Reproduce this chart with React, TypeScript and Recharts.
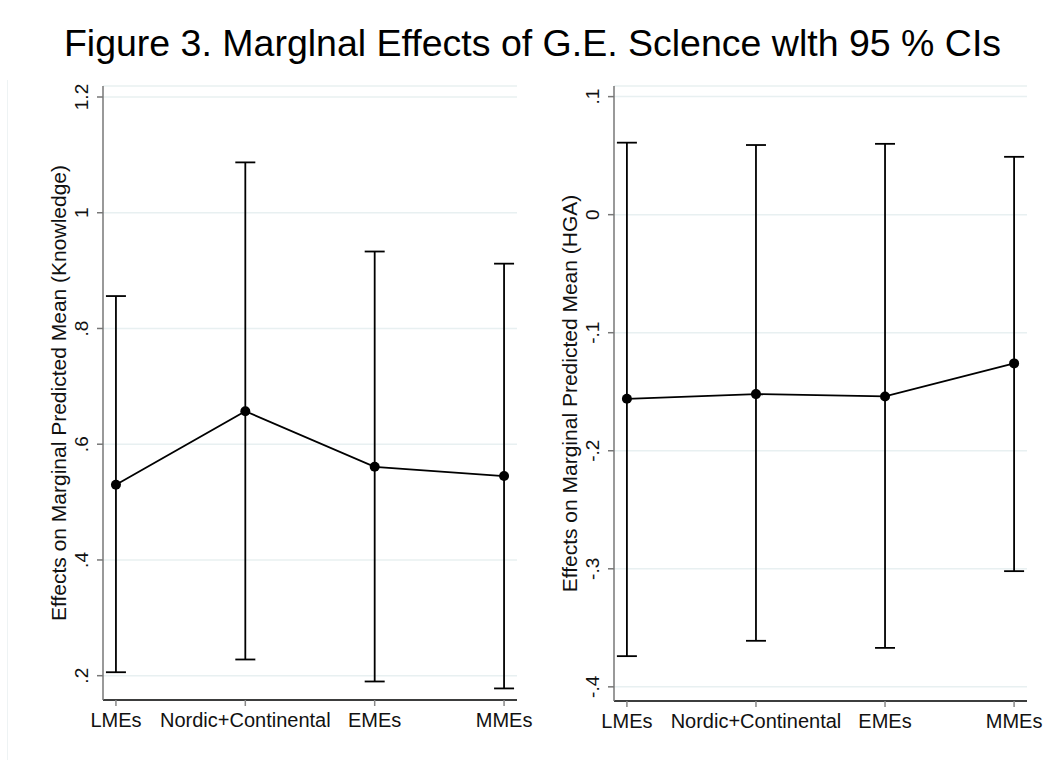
import React from "react";
import { CartesianGrid, ErrorBar, Line, LineChart, XAxis, YAxis } from "recharts";

const categories = ["LMEs", "Nordic+Continental", "EMEs", "MMEs"];

// left panel: Knowledge
const knowledgeMean = [0.53, 0.657, 0.561, 0.545];
const knowledgeLow = [0.206, 0.228, 0.19, 0.178];
const knowledgeHigh = [0.856, 1.087, 0.933, 0.912];
const knowledgeTicks = [0.2, 0.4, 0.6, 0.8, 1, 1.2];

// right panel: HGA
const hgaMean = [-0.156, -0.152, -0.154, -0.126];
const hgaLow = [-0.374, -0.361, -0.367, -0.302];
const hgaHigh = [0.061, 0.059, 0.06, 0.049];
const hgaTicks = [-0.4, -0.3, -0.2, -0.1, 0, 0.1];

const FONT = '"Liberation Sans", Arial, Helvetica, sans-serif';

const buildRows = (mean: number[], low: number[], high: number[]) =>
  mean.map((m, i) => ({
    pos: i + 1,
    mean: m,
    err: [m - low[i], high[i] - m]
  }));

// Stata style: ".2", "-.4", "0"
const stataNum = (v: number) => {
  const s = String(Math.round(v * 10) / 10);
  return s.replace(/^0\./, ".").replace(/^-0\./, "-.");
};

const RotatedTick = (props: any) => {
  const { x, y, payload } = props;
  return (
    <text
      x={x}
      y={y}
      transform={`rotate(-90 ${x} ${y})`}
      textAnchor="middle"
      fontSize={19}
      fontFamily={FONT}
      fill="#111"
    >
      {stataNum(payload.value)}
    </text>
  );
};

type PanelProps = {
  left: number;
  width: number;
  yLabel: string;
  mean: number[];
  low: number[];
  high: number[];
  ticks: number[];
  domain: [number, number];
  marginLeft: number;
  marginBottom: number;
};

function Panel({ left, width, yLabel, mean, low, high, ticks, domain, marginLeft, marginBottom }: PanelProps) {
  const rows = buildRows(mean, low, high);
  return (
    <div style={{ position: "absolute", left, top: 0 }}>
      <LineChart
        width={width}
        height={760}
        data={rows}
        margin={{ top: 86, right: 23, left: marginLeft, bottom: marginBottom }}
      >
        <CartesianGrid horizontal vertical={false} stroke="#e8f0f1" strokeWidth={1.5} />
        <XAxis
          dataKey="pos"
          type="number"
          domain={[0.9, 4.1]}
          ticks={[1, 2, 3, 4]}
          allowDataOverflow
          tickFormatter={(v) => categories[v - 1]}
          height={40}
          tickSize={6}
          tickMargin={7}
          interval={0}
          axisLine={{ stroke: "#000", strokeWidth: 1.5 }}
          tickLine={{ stroke: "#888", strokeWidth: 1.5 }}
          tick={{ fontSize: 20, fontFamily: FONT, fill: "#111" }}
        />
        <YAxis
          type="number"
          domain={domain}
          ticks={ticks}
          allowDataOverflow
          width={60}
          tickSize={6}
          tickMargin={9}
          interval={0}
          axisLine={{ stroke: "#777", strokeWidth: 1.5 }}
          tickLine={{ stroke: "#777", strokeWidth: 1.5 }}
          tick={<RotatedTick />}
          label={{
            value: yLabel,
            angle: -90,
            position: "insideLeft",
            offset: 0,
            dx: 16,
            style: { fontSize: 21, fontFamily: FONT, fill: "#111", textAnchor: "middle" }
          }}
        />
        <Line
          dataKey="mean"
          stroke="#000"
          strokeWidth={1.8}
          dot={{ r: 5, fill: "#000", stroke: "#000", strokeWidth: 0 }}
          activeDot={false}
          isAnimationActive={false}
        >
          <ErrorBar
            dataKey="err"
            direction="y"
            width={10}
            stroke="#000"
            strokeWidth={1.8}
            isAnimationActive={false}
          />
        </Line>
      </LineChart>
    </div>
  );
}

export default function App() {
  return (
    <div
      style={{
        position: "absolute",
        left: 0,
        top: 0,
        width: 1053,
        height: 773,
        background: "#fff",
        fontFamily: FONT
      }}
    >
      <div
        style={{
          position: "absolute",
          left: 7,
          top: 80,
          width: 0,
          height: 680,
          borderLeft: "1px solid #eef3f4"
        }}
      />
      <div
        style={{
          position: "absolute",
          left: 0,
          top: 22,
          width: 1065,
          textAlign: "center",
          fontSize: 37.5,
          color: "#000",
          whiteSpace: "nowrap"
        }}
      >
        Figure 3. Marglnal Effects of G.E. Sclence wlth 95 % CIs
      </div>
      <Panel
        left={0}
        width={540}
        yLabel="Effects on Marginal Predicted Mean (Knowledge)"
        mean={knowledgeMean}
        low={knowledgeLow}
        high={knowledgeHigh}
        ticks={knowledgeTicks}
        domain={[0.158, 1.219]}
        marginLeft={43}
        marginBottom={20}
      />
      <Panel
        left={520}
        width={530}
        yLabel="Effects on Marginal Predicted Mean (HGA)"
        mean={hgaMean}
        low={hgaLow}
        high={hgaHigh}
        ticks={hgaTicks}
        domain={[-0.412, 0.109]}
        marginLeft={34}
        marginBottom={19}
      />
    </div>
  );
}
